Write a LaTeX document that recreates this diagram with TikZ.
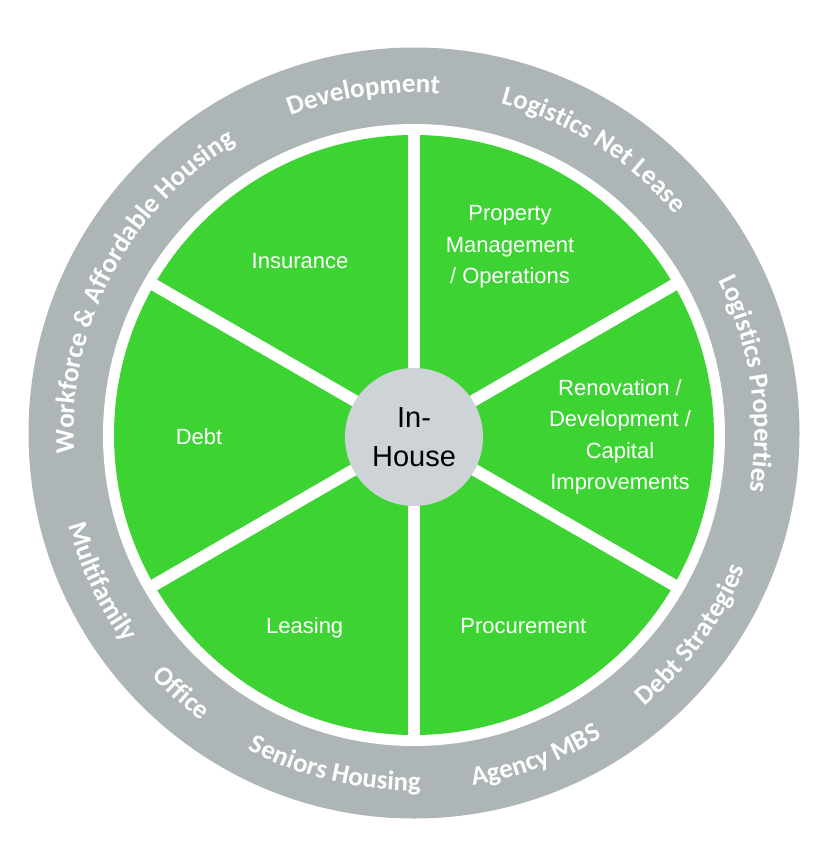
\documentclass[tikz,border=0pt]{standalone}
\usepackage{fontspec}
\newfontfamily\labelfamily{Liberation Sans}
\newfontfamily\ringfamily{Carlito}
\usetikzlibrary{decorations.text,calc}
\definecolor{ringgray}{HTML}{ADB5B6}
\definecolor{sectorgreen}{HTML}{3DD433}
\definecolor{hubgray}{HTML}{CDD3D6}
\newcommand\ringfont{\ringfamily\bfseries\fontsize{27}{31}\selectfont}
% clockwise ring text (tops outward): mid angle, radius, half span, text
\newcommand\ringcw[4]{%
  \path[decorate,decoration={text along path,text color=white,text align=center,
    text={|\ringfont|#4}}]
    ($(O)+({#1+#3}:#2)$) arc[start angle={#1+#3},end angle={#1-#3},radius=#2];}
% counterclockwise ring text (tops inward)
\newcommand\ringccw[4]{%
  \path[decorate,decoration={text along path,text color=white,text align=center,
    text={|\ringfont|#4}}]
    ($(O)+({#1-#3}:#2)$) arc[start angle={#1-#3},end angle={#1+#3},radius=#2];}
\begin{document}
\begin{tikzpicture}[x=1pt,y=1pt,
  sectorlabel/.style={text=white,font=\labelfamily\fontsize{22}{31.5}\selectfont,align=center,inner sep=0pt},
  hub/.style={circle,fill=hubgray,minimum size=138pt,inner sep=0pt,
    font=\labelfamily\fontsize{29}{39}\selectfont,align=center,text=black},
  divider/.style={white,line width=12pt}]
\useasboundingbox (0,0) rectangle (820,-862);
\fill[white] (0,0) rectangle (820,-862);
\coordinate (O) at (414,-433);
\coordinate (C) at (414,-435);
% rings
\fill[ringgray] (O) circle[radius=385.5];
\fill[white] (C) circle[radius=311];
\fill[sectorgreen] (C) circle[radius=300];
% dividers
\foreach \a in {90,30,-30,-90,-150,150}
  \draw[divider] (C) -- ++(\a:306);
% hub
\node[hub] (hub) at (414,-437) {In-\\House};
% sector labels
\node[sectorlabel] (prop) at (510,-247) {Property\\Management\\/ Operations};
\node[sectorlabel] (renov) at (620,-437) {Renovation /\\Development /\\Capital\\Improvements};
\node[sectorlabel,anchor=base] (ins) at (300,-268.3) {Insurance};
\node[sectorlabel,anchor=base] (debt) at (199,-444) {Debt};
\node[sectorlabel,anchor=base] (leas) at (304.7,-633.3) {Leasing};
\node[sectorlabel,anchor=base] (proc) at (523.3,-633.3) {Procurement};
% ring texts
\ringcw{98.5}{340.3}{45}{Development}
\ringcw{57.6}{340.3}{45}{Logistics Net Lease}
\ringcw{8.4}{340.3}{45}{Logistics Properties}
\ringcw{152.5}{340.3}{55}{Workforce {\&} Affordable Housing}
\ringccw{-36.1}{357.7}{45}{Debt Strategies}
\ringccw{-69.4}{357.7}{45}{Agency MBS}
\ringccw{-103.3}{357.7}{45}{Seniors Housing}
\ringccw{-131.8}{357.7}{45}{Office}
\ringccw{-154.5}{357.7}{45}{Multifamily}
\end{tikzpicture}
\end{document}
